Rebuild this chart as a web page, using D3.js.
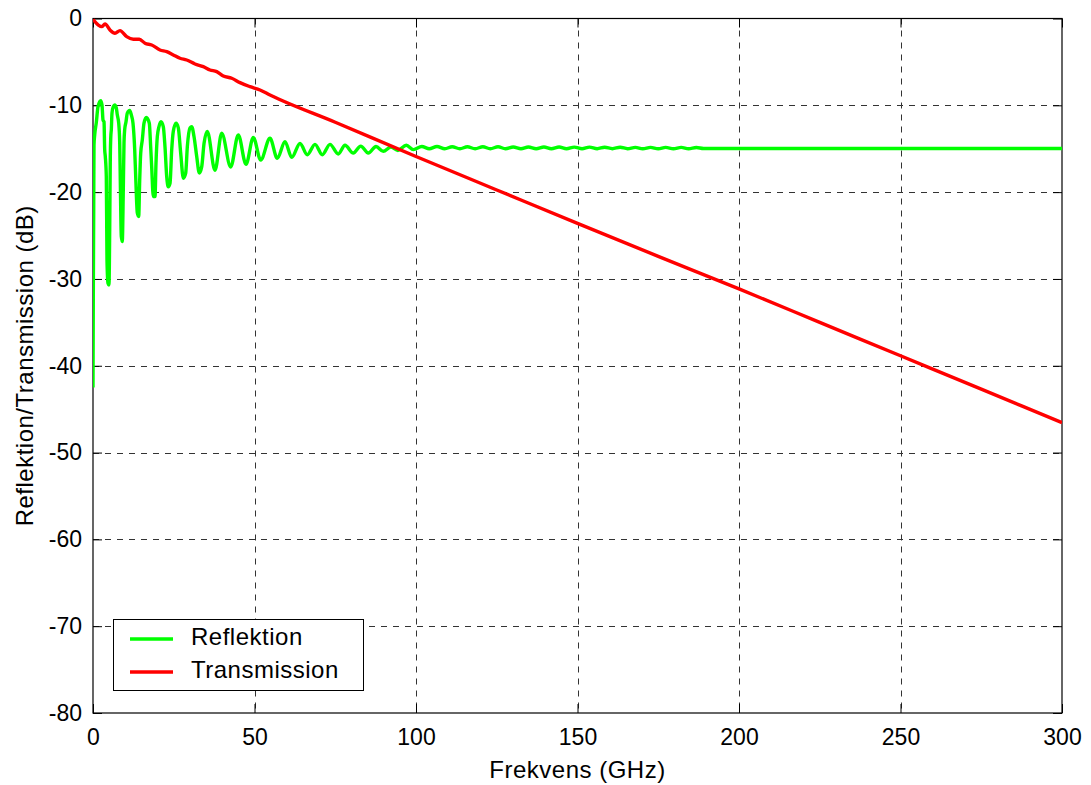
<!DOCTYPE html>
<html>
<head>
<meta charset="utf-8">
<script src="https://cdn.jsdelivr.net/npm/d3@7"></script>
<style>
  html, body { margin: 0; padding: 0; background: #fff; }
  svg text { font-family: "Liberation Sans", Arial, Helvetica, sans-serif; fill: #000; }
</style>
</head>
<body>
<svg id="chart" width="1091" height="785"></svg>
<script>
// Reflection (green) : frequency in GHz and level in dB
const reflFreq = [
  0, 0.09, 0.22, 0.31, 0.53, 1.02, 1.55, 2.38, 2.79, 3.10, 3.41, 3.62, 3.81, 4.12, 4.33, 4.64, 4.95,
  5.17, 5.36, 5.51, 5.67, 5.88, 6.28, 6.72, 7.21, 7.52, 7.96, 8.27, 8.45, 8.76, 9.07, 9.38, 9.60,
  9.81, 10.22, 10.62, 11.36, 11.86, 12.38, 12.91, 13.22, 13.72, 14.15, 14.46, 14.77, 15.26, 15.79,
  16.50, 17.43, 17.86, 18.17, 18.67, 19.20, 19.50, 19.91, 20.43, 21.05, 21.76, 22.29, 22.82, 23.31,
  23.84, 24.37, 24.86, 25.70, 26.41, 27.15, 27.96, 28.70, 29.20, 30.03, 30.56, 31.27, 32.11, 32.91,
  33.65, 34.37, 35.39, 37.77, 39.85, 42.63, 44.98, 47.37, 49.63, 51.92, 54.80, 57.06, 59.44, 61.52,
  64.09, 66.35, 68.73, 70.99, 73.37, 75.94, 78.02, 80.59, 82.88, 85.23, 87.62, 89.88, 92.17, 94.4,
  97.0, 99.2, 101.8, 104.1, 106.5, 108.9, 111.2, 113.6, 115.9, 118.3, 120.7, 123.0, 125.4, 127.7,
  130.1, 132.5, 134.8, 137.2, 139.6, 141.9, 144.3, 146.6, 149.0, 151.4, 153.7, 156.1, 158.4, 160.8,
  163.2, 165.5, 167.9, 170.2, 172.6, 175.0, 177.3, 179.7, 182.1, 184.4, 186.8, 189.0, 300
];
const reflDb = [
  -42.5, -32.4, -22.0, -14.6, -13.4, -12.0, -10.15, -9.46, -9.96, -11.7, -11.9, -15.1, -15.9, -18.2, -27.8, -30.5, -30.7,
  -24.4, -15.9, -13.6, -12.8, -10.9, -10.15, -9.96, -10.3, -11.1, -12.06, -14.3, -18.6, -25.1, -25.7, -19.7, -14.3,
  -12.8, -11.9, -10.9, -10.6, -11.1, -12.06, -15.1, -18.2, -22.4, -22.8, -18.6, -15.5, -14.0, -12.06,
  -11.4, -12.06, -14.8, -17.1, -20.5, -20.5, -16.7, -13.6, -12.45, -11.9, -12.45, -14.8, -18.2, -19.4,
  -19.0, -15.1, -13.0, -12.06, -12.6, -15.5, -18.4, -17.8, -14.8, -12.6, -12.45, -13.6, -15.9, -17.8,
  -17.1, -14.4, -13.0, -17.5, -13.2, -17.1, -13.4, -16.8, -13.7, -16.3, -13.8, -16.1, -14.2, -16.0,
  -14.4, -15.7, -14.5, -15.7, -14.5, -15.6, -14.6, -15.5, -14.7, -15.5, -14.75, -15.3, -14.8, -15.2,
  -14.6, -15.1, -14.75, -15.0, -14.75, -15.0, -14.77, -15.0, -14.77, -15.0, -14.78, -15.0, -14.78, -15.0,
  -14.8, -15.0, -14.8, -15.0, -14.8, -15.0, -14.8, -15.0, -14.82, -15.0, -14.82, -15.0, -14.83, -15.0,
  -14.83, -15.0, -14.84, -15.0, -14.84, -15.0, -14.85, -15.0, -14.85, -15.0, -14.86, -14.98, -14.98
];

// Transmission (red) : frequency in GHz and level in dB
const transFreq = [
  0, 1.64, 2.69, 3.72, 5.26, 6.81, 8.36, 10.43, 12.48, 14.33, 16.1, 18.17, 20.74, 22.82, 24.86, 26.93,
  29.01, 31.58, 34.15, 36.22, 38.30, 40.34, 42.94, 45.51, 48.61, 51.7, 54.8, 75, 100, 125, 150, 175,
  200, 225, 250, 275, 300
];
const transDb = [
  -0.1, -0.75, -0.94, -0.63, -1.32, -1.70, -1.40, -2.09, -2.39, -2.39, -2.85, -3.05, -3.63, -3.82, -4.20, -4.58,
  -4.78, -5.24, -5.55, -5.93, -6.12, -6.62, -6.88, -7.39, -7.85, -8.23, -8.81, -11.95, -15.9, -19.75, -23.6, -27.4,
  -31.15, -35.0, -38.85, -42.7, -46.55
];

const xTicks = [0, 50, 100, 150, 200, 250, 300];
const yTicks = [0, -10, -20, -30, -40, -50, -60, -70, -80];
const seriesNames = ["Reflektion", "Transmission"];
const seriesColors = ["#00ff00", "#ff0000"];

const svg = d3.select("#chart");
const plotLeft = 93, plotRight = 1062, plotTop = 18.5, plotBottom = 713;
const tickFontSize = 23;
const labelFontSize = 24;
const labelSpacing = "0.5px";
const curveWidth = 3.4;

const x = d3.scaleLinear().domain([0, 300]).range([plotLeft, plotRight]);
const y = d3.scaleLinear().domain([-80, 0]).range([plotBottom, plotTop]);

// plot area clip
svg.append("defs").append("clipPath").attr("id", "plotClip")
  .append("rect").attr("x", plotLeft).attr("y", plotTop)
  .attr("width", plotRight - plotLeft).attr("height", plotBottom - plotTop);

// dashed grid
const grid = svg.append("g").attr("stroke", "#333").attr("stroke-width", 1)
  .attr("stroke-dasharray", "6,6");
grid.selectAll("line.v").data(xTicks.slice(1, -1)).join("line")
  .attr("class", "v")
  .attr("x1", d => Math.round(x(d)) + 0.5).attr("x2", d => Math.round(x(d)) + 0.5)
  .attr("y1", plotTop).attr("y2", plotBottom);
grid.selectAll("line.h").data(yTicks.slice(1, -1)).join("line")
  .attr("class", "h")
  .attr("x1", plotLeft).attr("x2", plotRight)
  .attr("y1", d => Math.round(y(d)) + 0.5).attr("y2", d => Math.round(y(d)) + 0.5);

// axes with inward ticks
const axisFont = g => g.selectAll("text").attr("font-size", tickFontSize)
  .attr("font-family", "Liberation Sans, Arial, sans-serif").attr("fill", "#000");

const xAxis = svg.append("g").attr("transform", `translate(0,${plotBottom})`)
  .call(d3.axisBottom(x).tickValues(xTicks).tickSize(-9).tickPadding(16).tickFormat(d3.format("d")));
xAxis.call(axisFont);
const xAxisTop = svg.append("g").attr("transform", `translate(0,${plotTop})`)
  .call(d3.axisTop(x).tickValues(xTicks).tickSize(-9).tickFormat(""));
const yAxis = svg.append("g").attr("transform", `translate(${plotLeft},0)`)
  .call(d3.axisLeft(y).tickValues(yTicks).tickSize(-9).tickPadding(11)
    .tickFormat(d => String(d)));
yAxis.call(axisFont);
const yAxisRight = svg.append("g").attr("transform", `translate(${plotRight},0)`)
  .call(d3.axisRight(y).tickValues(yTicks).tickSize(-9).tickFormat(""));

[xAxis, xAxisTop, yAxis, yAxisRight].forEach(g => {
  g.select(".domain").remove();
  g.selectAll(".tick line").attr("stroke", "#000");
});

// plot box
svg.append("rect").attr("x", plotLeft).attr("y", plotTop)
  .attr("width", plotRight - plotLeft).attr("height", plotBottom - plotTop)
  .attr("fill", "none").attr("stroke", "#000").attr("stroke-width", 1.2);

// curves
const line = d3.line().x(d => x(d[0])).y(d => y(d[1])).curve(d3.curveMonotoneX);
const reflPts = reflFreq.map((f, i) => [f, reflDb[i]]);
const transPts = transFreq.map((f, i) => [f, transDb[i]]);

const plot = svg.append("g").attr("clip-path", "url(#plotClip)");
plot.append("path").datum(reflPts).attr("d", line)
  .attr("fill", "none").attr("stroke", seriesColors[0]).attr("stroke-width", curveWidth)
  .attr("stroke-linejoin", "round");
plot.append("path").datum(transPts).attr("d", line)
  .attr("fill", "none").attr("stroke", seriesColors[1]).attr("stroke-width", curveWidth)
  .attr("stroke-linejoin", "round");

// axis titles
svg.append("text").attr("x", (plotLeft + plotRight) / 2).attr("y", 778)
  .attr("text-anchor", "middle").attr("font-size", labelFontSize)
  .style("letter-spacing", labelSpacing).text("Frekvens (GHz)");
svg.append("text").attr("transform", `translate(33,${(plotTop + plotBottom) / 2}) rotate(-90)`)
  .attr("text-anchor", "middle").attr("font-size", labelFontSize)
  .style("letter-spacing", labelSpacing).text("Reflektion/Transmission (dB)");

// legend
const legend = svg.append("g");
legend.append("rect").attr("x", 113.5).attr("y", 619.5).attr("width", 250).attr("height", 71)
  .attr("fill", "#fff").attr("stroke", "#000").attr("stroke-width", 1);
const legendY = [639, 672];
seriesNames.forEach((name, i) => {
  legend.append("line").attr("x1", 130).attr("x2", 173).attr("y1", legendY[i]).attr("y2", legendY[i])
    .attr("stroke", seriesColors[i]).attr("stroke-width", curveWidth);
  legend.append("text").attr("x", 191).attr("y", legendY[i] + 6)
    .attr("font-size", labelFontSize).style("letter-spacing", labelSpacing).text(name);
});
</script>
</body>
</html>
